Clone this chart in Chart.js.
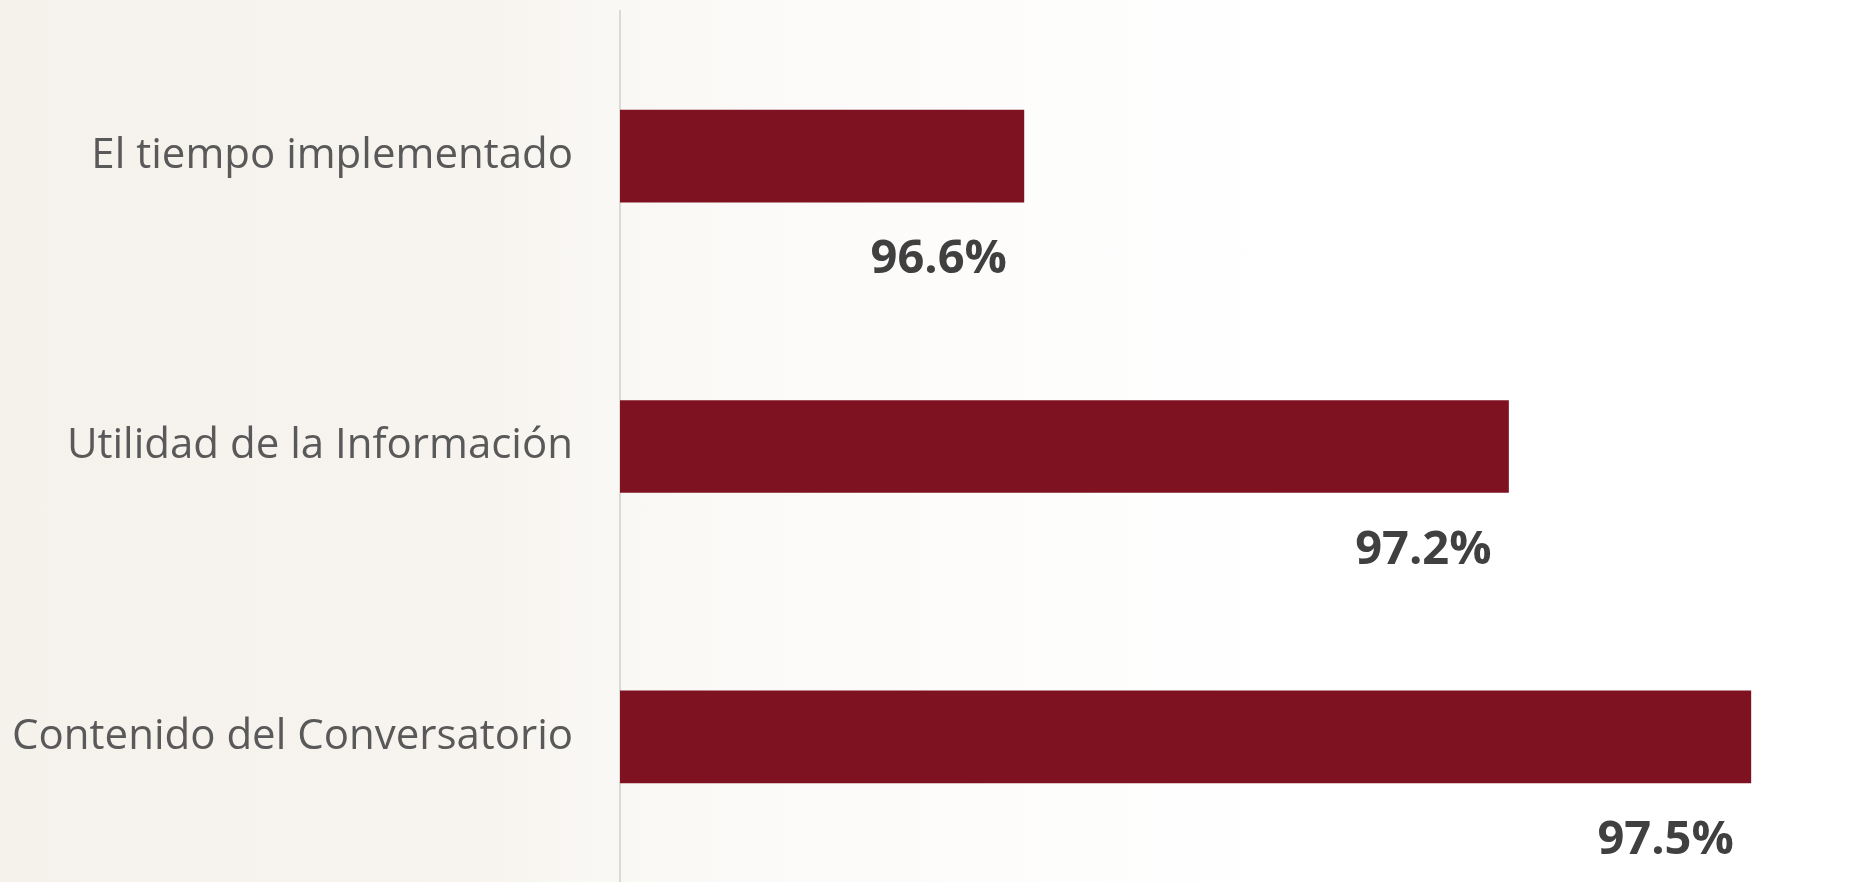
<!DOCTYPE html>
<html lang="es">
<head>
<meta charset="utf-8">
<title>Evaluación del conversatorio</title>
<script src="https://cdn.jsdelivr.net/npm/chart.js@4/dist/chart.umd.min.js"></script>
<style>
  html, body {
    margin: 0;
    padding: 0;
  }
  body {
    width: 1872px;
    height: 882px;
    overflow: hidden;
    background: linear-gradient(to right, #f5f2ec 0%, #f7f4ef 25%, #faf8f5 33%, #fdfcfb 50%, #ffffff 70%);
  }
  #chartBox {
    position: relative;
    width: 1872px;
    height: 882px;
  }
</style>
</head>
<body>
<div id="chartBox">
  <canvas id="barChart"></canvas>
</div>
<script>
// Datos del gráfico
const categorias = [
  "El tiempo implementado",
  "Utilidad de la Información",
  "Contenido del Conversatorio",
];
const porcentajes = [96.6, 97.2, 97.5];

const colorBarra = "#7e1221";

// Etiquetas de porcentaje debajo de cada barra
const etiquetasPlugin = {
  id: "etiquetasAbajo",
  afterDatasetsDraw(chart) {
    const ctx = chart.ctx;
    const meta = chart.getDatasetMeta(0);
    ctx.save();
    ctx.font = "bold 47px 'Open Sans'";
    ctx.fillStyle = "#404040";
    ctx.textAlign = "right";
    ctx.textBaseline = "alphabetic";
    meta.data.forEach((bar, i) => {
      const p = bar.getProps(["x", "y", "height"], true);
      const texto = porcentajes[i].toFixed(1) + "%";
      ctx.fillText(texto, p.x - 17, p.y + p.height / 2 + 71);
    });
    ctx.restore();
  },
};

// Crear gráfico
const barChart = document.getElementById("barChart");
new Chart(barChart, {
  type: "bar",
  data: {
    labels: categorias,
    datasets: [
      {
        data: porcentajes,
        backgroundColor: colorBarra,
        borderWidth: 0,
        barThickness: 92,
      },
    ],
  },
  options: {
    indexAxis: "y",
    responsive: true,
    maintainAspectRatio: false,
    animation: false,
    layout: {
      padding: { top: 11, right: 0, bottom: -1, left: 0 },
    },
    plugins: {
      legend: { display: false },
      tooltip: { enabled: false },
    },
    scales: {
      x: {
        display: false,
        min: 96.1,
        max: 97.65,
      },
      y: {
        grid: { display: false, drawTicks: false },
        border: { display: true, color: "#d9d9d9", width: 2 },
        ticks: {
          crossAlign: "near",
          padding: 47,
          color: "#595959",
          font: { family: "'Open Sans'", size: 42 },
        },
        afterFit(scale) {
          scale.width = 620;
          scale.paddingTop = 0;
          scale.paddingBottom = 0;
        },
      },
    },
  },
  plugins: [etiquetasPlugin],
});
</script>
</body>
</html>
